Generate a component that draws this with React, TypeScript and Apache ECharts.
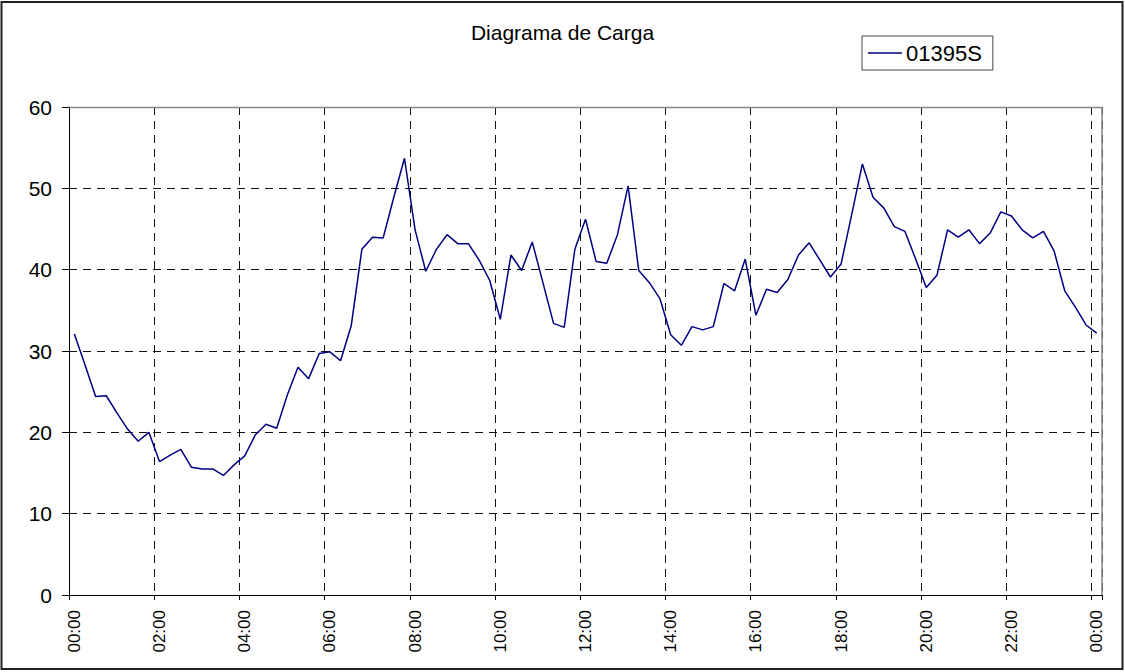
import React, { useEffect, useRef } from "react";
import * as echarts from "echarts";

const seriesName = "01395S";
const chartTitle = "Diagrama de Carga";

// 97 quarter-hour readings from 00:00 to 00:00 of the next day
const times: string[] = [];
for (let h = 0; h < 24; h++) {
  for (let m = 0; m < 60; m += 15) {
    times.push(`${String(h).padStart(2, "0")}:${String(m).padStart(2, "0")}`);
  }
}
times.push("00:00");

const loadValues = [
  32.1, 28.3, 24.4, 24.5, 22.4, 20.4, 18.9, 20.0, 16.4, 17.2,
  17.9, 15.7, 15.5, 15.5, 14.7, 16.0, 17.1, 19.7, 21.0, 20.5,
  24.6, 28.0, 26.6, 29.7, 29.9, 28.8, 33.1, 42.5, 44.0, 43.9,
  48.9, 53.7, 44.9, 39.8, 42.5, 44.3, 43.2, 43.2, 41.2, 38.7,
  33.9, 41.8, 39.9, 43.4, 38.4, 33.4, 32.9, 42.5, 46.2, 41.0,
  40.8, 44.3, 50.3, 39.9, 38.4, 36.4, 32.0, 30.7, 33.0, 32.6,
  33.0, 38.3, 37.4, 41.3, 34.4, 37.6, 37.2, 38.8, 41.8, 43.3,
  41.2, 39.1, 40.7, 46.8, 53.0, 48.9, 47.6, 45.3, 44.7, 41.3,
  37.8, 39.3, 44.9, 44.0, 44.9, 43.2, 44.5, 47.1, 46.6, 44.9,
  43.9, 44.7, 42.3, 37.4, 35.4, 33.2, 32.2,
];

const yMin = 0;
const yMax = 60;
const yStep = 10;

const W = 1125;
const H = 672;
const GL = 69;
const GR = 23;
const GT = 107;
const GB = 77;

export default function App() {
  const ref = useRef<HTMLDivElement>(null);
  useEffect(() => {
    if (!ref.current) return;
    const chart = echarts.init(ref.current, null, { renderer: "svg" });
    const font = "'Liberation Sans', Arial, sans-serif";
    chart.setOption({
      animation: false,
      backgroundColor: "#ffffff",
      title: {
        text: chartTitle,
        left: "center",
        top: 22,
        padding: 0,
        textStyle: { fontSize: 21, fontWeight: "normal", color: "#000", fontFamily: font },
      },
      legend: {
        data: [{ name: seriesName, icon: "rect" }],
        left: 862,
        top: 36,
        padding: [6, 11, 6, 6],
        itemWidth: 34,
        itemHeight: 1.5,
        itemGap: 6,
        borderColor: "#444",
        borderWidth: 1,
        textStyle: { fontSize: 22, color: "#000", fontFamily: font, padding: [0, 0, 0, -1] },
      },
      grid: { left: GL, right: GR, top: GT, bottom: GB, containLabel: false },
      xAxis: {
        type: "category",
        data: times,
        boundaryGap: true,
        axisLine: { lineStyle: { color: "#000", width: 1 } },
        axisTick: { show: true, interval: 7, length: 5, lineStyle: { color: "#000" } },
        axisLabel: {
          interval: 7,
          rotate: 90,
          margin: 15,
          fontSize: 17,
          color: "#000",
          fontFamily: font,
        },
        splitLine: {
          show: true,
          interval: 7,
          lineStyle: { color: "#111", type: [8, 6], width: 1 },
        },
      },
      yAxis: {
        type: "value",
        min: yMin,
        max: yMax,
        interval: yStep,
        axisLine: { show: true, lineStyle: { color: "#000", width: 1 } },
        axisTick: { show: true, length: 7, lineStyle: { color: "#000" } },
        axisLabel: { fontSize: 21, color: "#000", margin: 17, fontFamily: font },
        splitLine: { show: true, lineStyle: { color: "#111", type: [8, 6], width: 1 } },
      },
      series: [
        {
          name: seriesName,
          type: "line",
          data: loadValues,
          symbol: "none",
          showSymbol: false,
          lineStyle: { color: "#000080", width: 1.5 },
          itemStyle: { color: "#000080" },
          z: 5,
        },
      ],
      graphic: [
        {
          type: "line",
          z: 50,
          shape: { x1: GL, y1: GT + 0.5, x2: W - GR, y2: GT + 0.5 },
          style: { stroke: "#888", lineWidth: 1.5 },
        },
        {
          type: "line",
          z: 50,
          shape: { x1: W - GR, y1: GT, x2: W - GR, y2: H - GB },
          style: { stroke: "#888", lineWidth: 1.5 },
        },
        {
          type: "rect",
          z: 50,
          shape: { x: 1.5, y: 2, width: 1121, height: 667 },
          style: { fill: "none", stroke: "#222", lineWidth: 2 },
        },
      ],
    });
    return () => chart.dispose();
  }, []);
  return (
    <div
      ref={ref}
      style={{ position: "absolute", left: 0, top: 0, width: W, height: H }}
    />
  );
}
